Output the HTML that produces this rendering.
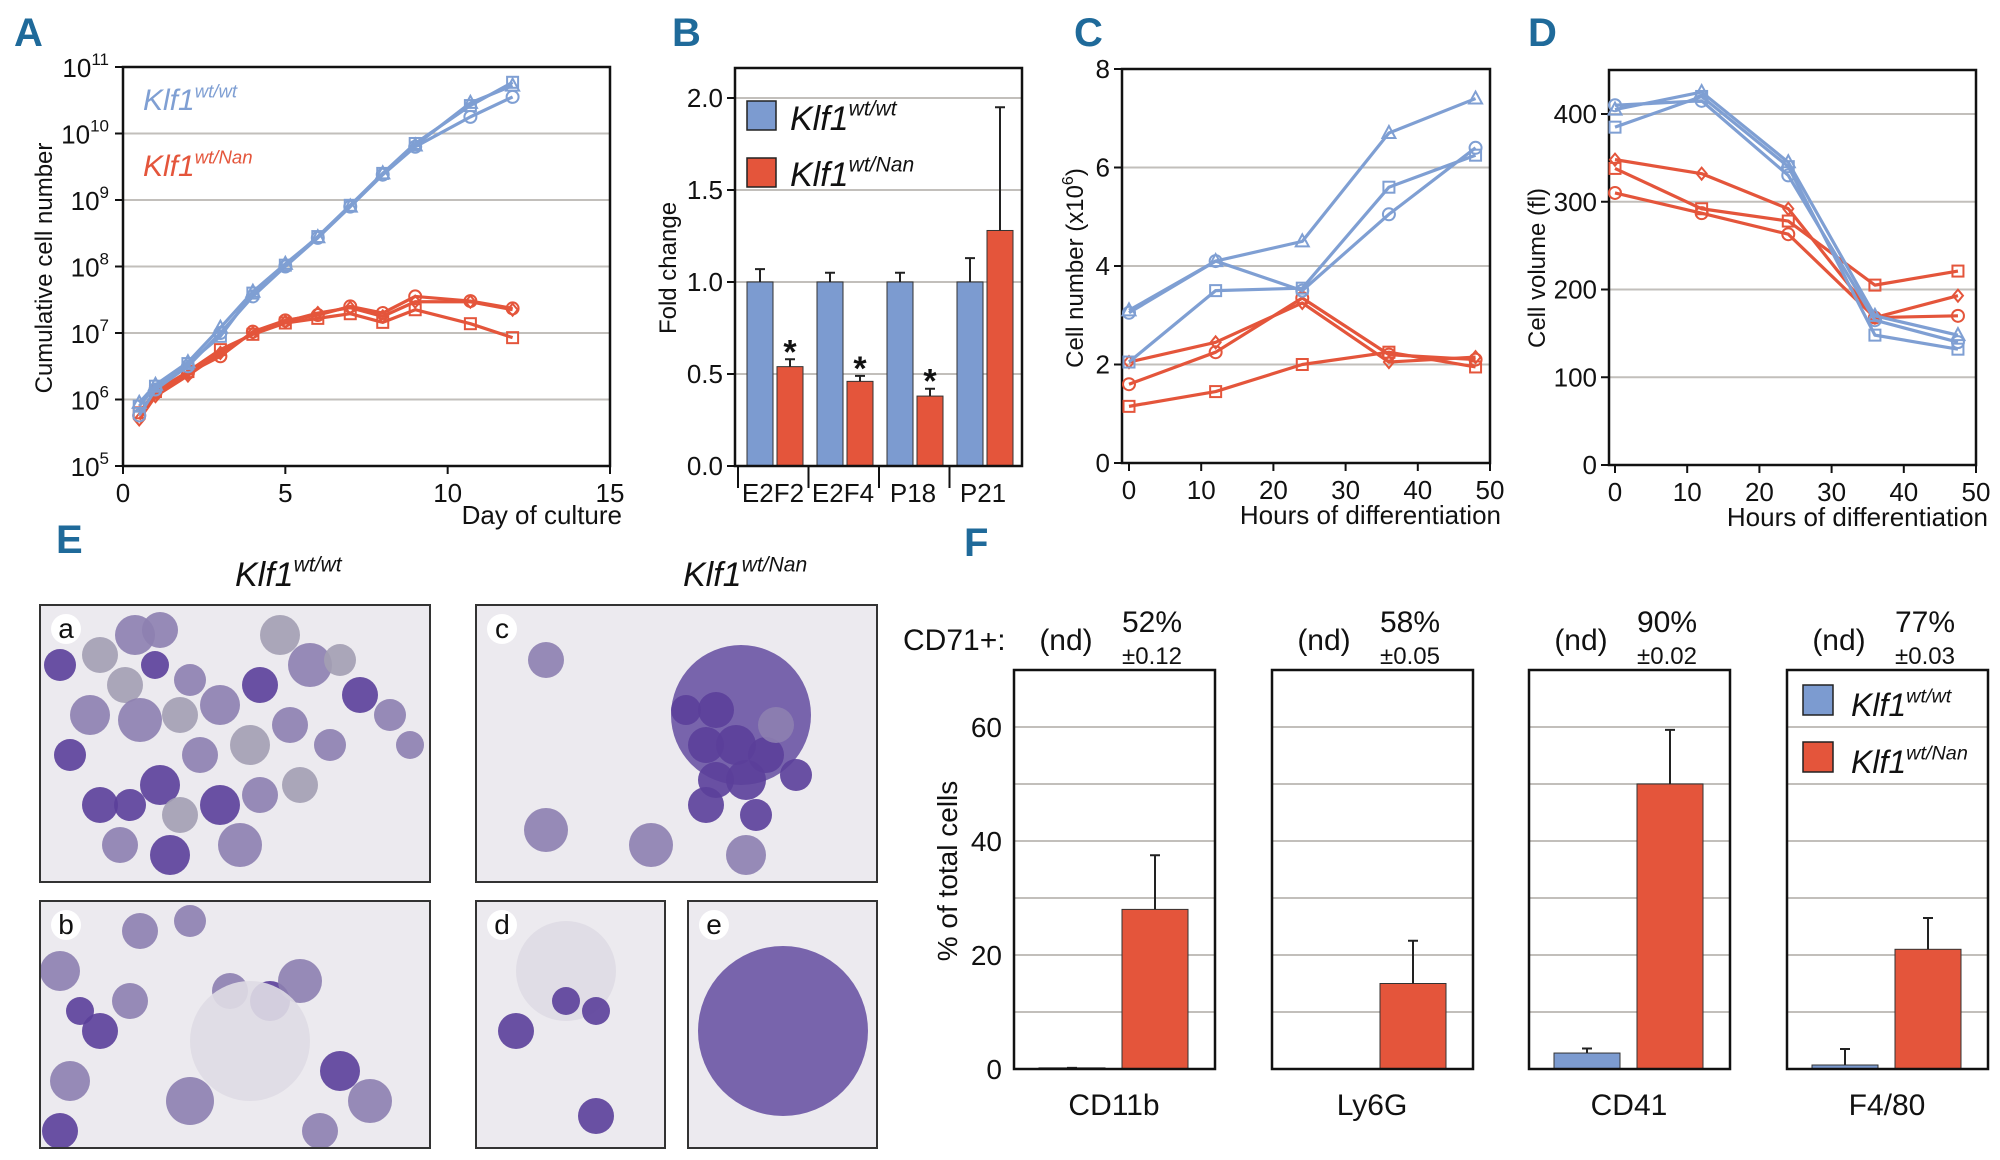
<!DOCTYPE html>
<html><head><meta charset="utf-8"><style>
html,body{margin:0;padding:0;background:#fff;}
svg{display:block;}
text{font-family:"Liberation Sans Narrow","Liberation Sans",sans-serif;}
.w{font-family:"Liberation Sans",sans-serif;}
.pl{font-family:"Liberation Sans Narrow","Liberation Sans",sans-serif;font-weight:bold;font-size:40px;}
</style></head><body>
<svg id="fig" width="2000" height="1160" viewBox="0 0 2000 1160" xmlns="http://www.w3.org/2000/svg">
<text class="pl" x="14" y="46" fill="#1f6a9a">A</text>
<text class="pl" x="672" y="46" fill="#1f6a9a">B</text>
<text class="pl" x="1074" y="46" fill="#1f6a9a">C</text>
<text class="pl" x="1528" y="46" fill="#1f6a9a">D</text>
<text class="pl" x="56" y="553" fill="#1f6a9a">E</text>
<text class="pl" x="964" y="556" fill="#1f6a9a">F</text>
</svg>
<script>
// ---------- data ----------
const aDays=[0.5,1,2,3,4,5,6,7,8,9,10.7,12];
const aBlueCircle=[5.76,6.15,6.5,7.0,7.55,8.0,8.43,8.9,9.38,9.8,10.25,10.55];
const aBlueSquare=[5.9,6.2,6.54,6.95,7.6,8.02,8.45,8.92,9.4,9.85,10.42,10.77];
const aBlueTriangle=[5.95,6.22,6.56,7.08,7.62,8.04,8.44,8.9,9.4,9.82,10.46,10.72];
const aRedCircle=[5.76,6.1,6.4,6.65,7.02,7.19,7.27,7.4,7.3,7.55,7.48,7.37];
const aRedDiamond=[5.7,6.05,6.36,6.7,7.0,7.17,7.3,7.38,7.25,7.47,7.47,7.35];
const aRedSquare=[5.8,6.12,6.42,6.75,6.98,7.15,7.22,7.29,7.16,7.35,7.14,6.93];
const aXTicks=[0,5,10,15];
const aYExp=[5,6,7,8,9,10,11];

const bCats=["E2F2","E2F4","P18","P21"];
const bBlue=[1.0,1.0,1.0,1.0];
const bBlueErr=[1.07,1.05,1.05,1.13];
const bRed=[0.54,0.46,0.38,1.28];
const bRedErr=[0.58,0.49,0.42,1.95];
const bSig=[true,true,true,false];
const bYTicks=[0,0.5,1.0,1.5,2.0];

const cHours=[0,12,24,36,48];
const cBlueTriangle=[3.1,4.1,4.5,6.7,7.4];
const cBlueCircle=[3.05,4.1,3.5,5.05,6.4];
const cBlueSquare=[2.05,3.5,3.55,5.6,6.25];
const cRedDiamond=[2.05,2.45,3.25,2.05,2.15];
const cRedCircle=[1.6,2.25,3.35,2.2,2.1];
const cRedSquare=[1.15,1.45,2.0,2.25,1.95];
const cYTicks=[0,2,4,6,8];
const hXTicks=[0,10,20,30,40,50];

const dHours=[0,12,24,36,47.5];
const dBlueCircle=[410,415,330,165,140];
const dBlueTriangle=[405,425,345,170,148];
const dBlueSquare=[385,420,340,148,132];
const dRedDiamond=[348,332,292,168,193];
const dRedSquare=[338,292,278,205,221];
const dRedCircle=[310,287,263,168,170];
const dYTicks=[0,100,200,300,400];

const fCats=["CD11b","Ly6G","CD41","F4/80"];
const fBlue=[0.2,0,2.8,0.7];
const fBlueErr=[0.2,0,3.6,3.5];
const fRed=[28,15,50,21];
const fRedErr=[37.5,22.5,59.5,26.5];
const fPct=["52%","58%","90%","77%"];
const fSd=["±0.12","±0.05","±0.02","±0.03"];
const fYTicks=[0,20,40,60];

// ---------- helpers ----------
const SVG="http://www.w3.org/2000/svg";
const fig=document.getElementById('fig');
const BLUE="#7f9fd3", RED="#e4553b", BLUEF="#7c9bd0", GRID="#c2bfbb";
function mk(tag,at,parent){const e=document.createElementNS(SVG,tag);for(const k in at)e.setAttribute(k,at[k]);(parent||fig).appendChild(e);return e;}
function txt(s,at,parent){if(!('fill' in at))at.fill='#111';const e=mk('text',at,parent);e.textContent=s;return e;}
function marker(shape,x,y,col,g){
  let e;
  if(shape==='c')e=mk('circle',{cx:x,cy:y,r:6,fill:'none',stroke:col,'stroke-width':2},g);
  else if(shape==='s')e=mk('rect',{x:x-5.5,y:y-5.5,width:11,height:11,fill:'none',stroke:col,'stroke-width':2},g);
  else if(shape==='t')e=mk('polygon',{points:`${x},${y-7} ${x+6.5},${y+5} ${x-6.5},${y+5}`,fill:'none',stroke:col,'stroke-width':2},g);
  else e=mk('polygon',{points:`${x},${y-6} ${x+5},${y} ${x},${y+6} ${x-5},${y}`,fill:'none',stroke:col,'stroke-width':2},g);
  return e;
}
function series(xs,ys,fx,fy,col,shape,name){
  const g=mk('g',{});
  
  
  const pts=xs.map((x,i)=>fx(x)+','+fy(ys[i])).join(' ');
  const l=mk('polyline',{points:pts,fill:'none',stroke:col,'stroke-width':3.2,'stroke-linejoin':'round'},g);
  
  
  xs.forEach((x,i)=>{const m=marker(shape,fx(x),fy(ys[i]),col,g);
    
    });
}
function frame(x0,y0,x1,y1,name){
  const r=mk('rect',{x:x0,y:y0,width:x1-x0,height:y1-y0,fill:'none',stroke:'#111','stroke-width':2.5});
  
  
}
function grid(x0,x1,y,name){
  const l=mk('line',{x1:x0,x2:x1,y1:y,y2:y,stroke:GRID,'stroke-width':2});
  
  
}
function vtitle(s,x,y,size,name,cls){
  const t=txt(s,{x:x,y:y,'font-size':size,'text-anchor':'middle',transform:`rotate(-90 ${x} ${y})`,class:cls||'w'});
  
  
  return t;
}
function klf(x,y,sup,col,size,name){
  const t=txt('',{x:x,y:y,'font-size':size,'font-style':'italic',fill:col});
  
  
  const a=mk('tspan',{},t);a.textContent='Klf1';
  const b=mk('tspan',{dy:-size*0.42,'font-size':size*0.62},t);b.textContent=sup;
  return t;
}

// ---------- panel A ----------
(function(){
  const X0=123,X1=610,Y0=67,Y1=466;
  const fx=d=>X0+d/15*(X1-X0), fy=l=>Y1-(l-5)*(Y1-Y0)/6;
  aYExp.forEach(e=>{ if(e>5&&e<11) grid(X0,X1,fy(e),'a-gridline');
    const tk=mk('line',{x1:X0-8,x2:X0,y1:fy(e),y2:fy(e),stroke:'#111','stroke-width':2});
    
    
    const t=txt('',{x:X0-14,y:fy(e)+10,'font-size':26,'text-anchor':'end',class:'w'});
    
    
    const s1=mk('tspan',{},t);s1.textContent='10';
    const s2=mk('tspan',{dy:-12,'font-size':17},t);s2.textContent=String(e);
  });
  aXTicks.forEach(d=>{
    const tk=mk('line',{x1:fx(d),x2:fx(d),y1:Y1,y2:Y1+8,stroke:'#111','stroke-width':2});
    
    
    const t=txt(String(d),{x:fx(d),y:Y1+36,'font-size':26,'text-anchor':'middle'});
    
    
  });
  frame(X0,Y0,X1,Y1,'a-plot-frame');
  series(aDays,aRedSquare,fx,fy,RED,'s','a-red-square-series');
  series(aDays,aRedDiamond,fx,fy,RED,'d','a-red-diamond-series');
  series(aDays,aRedCircle,fx,fy,RED,'c','a-red-circle-series');
  series(aDays,aBlueCircle,fx,fy,BLUE,'c','a-blue-circle-series');
  series(aDays,aBlueTriangle,fx,fy,BLUE,'t','a-blue-triangle-series');
  series(aDays,aBlueSquare,fx,fy,BLUE,'s','a-blue-square-series');
  klf(143,110,'wt/wt',BLUE,30,'a-legend-wt');
  klf(143,176,'wt/Nan',RED,30,'a-legend-nan');
  const xt=txt('Day of culture',{x:622,y:524,'font-size':26,'text-anchor':'end'});
  
  
  vtitle('Cumulative cell number',52,268,24,'a-y-axis-title');
})();

// ---------- panel B ----------
(function(){
  const X0=735,X1=1022,Y0=68,Y1=466;
  const fy=v=>Y1-v*184;
  bYTicks.forEach(v=>{ if(v>0) grid(X0,X1,fy(v),'b-gridline');
    const tk=mk('line',{x1:X0-8,x2:X0,y1:fy(v),y2:fy(v),stroke:'#111','stroke-width':2});
    
    
    const t=txt(v.toFixed(1),{x:X0-12,y:fy(v)+9,'font-size':26,'text-anchor':'end'});
    
    
  });
  bCats.forEach((c,i)=>{
    const bx=747+i*70, rx=777+i*70, w=26;
    const b=mk('rect',{x:bx,y:fy(bBlue[i]),width:w,height:fy(0)-fy(bBlue[i]),fill:BLUEF,stroke:'#333','stroke-width':1});
    
    
    const r=mk('rect',{x:rx,y:fy(bRed[i]),width:w,height:fy(0)-fy(bRed[i]),fill:RED,stroke:'#333','stroke-width':1});
    
    
    [[bx+w/2,bBlue[i],bBlueErr[i]],[rx+w/2,bRed[i],bRedErr[i]]].forEach(([cx,v,e])=>{
      const l=mk('path',{d:`M${cx},${fy(v)} V${fy(e)} M${cx-5},${fy(e)} H${cx+5}`,stroke:'#222','stroke-width':2,fill:'none'});
      
      
    });
    if(bSig[i]){const s=txt('*',{x:rx+w/2,y:fy(bRedErr[i])+4,'font-size':34,'text-anchor':'middle','font-weight':'bold',class:'w'});
      
      }
    const t=txt(c,{x:773+i*70,y:Y1+36,'font-size':26,'text-anchor':'middle'});
    
    
    const sp=mk('line',{x1:738+i*70.5,x2:738+i*70.5,y1:Y1,y2:Y1+22,stroke:'#111','stroke-width':2});
    
    
  });
  frame(X0,Y0,X1,Y1,'b-plot-frame');
  const s1=mk('rect',{x:747,y:101,width:29,height:29,fill:BLUEF,stroke:'#222','stroke-width':1.5});
  
  
  const s2=mk('rect',{x:747,y:158,width:29,height:29,fill:RED,stroke:'#222','stroke-width':1.5});
  
  
  klf(790,130,'wt/wt','#111',34,'b-legend-wt');
  klf(790,186,'wt/Nan','#111',34,'b-legend-nan');
  vtitle('Fold change',676,268,24,'b-y-axis-title');
})();

// ---------- panels C & D ----------
function hoursAxis(X0,X1,Y1,xs0,prefix){
  hXTicks.forEach(h=>{const x=xs0(h);
    const tk=mk('line',{x1:x,x2:x,y1:Y1,y2:Y1+8,stroke:'#111','stroke-width':2});
    
    
    const t=txt(String(h),{x:x,y:Y1+36,'font-size':26,'text-anchor':'middle'});
    
    });
}
(function(){
  const X0=1122,X1=1490,Y0=69,Y1=463;
  const fx=h=>1129+h/50*361, fy=v=>Y1-v*(Y1-Y0)/8;
  cYTicks.forEach(v=>{ if(v>0&&v<8) grid(X0,X1,fy(v),'c-gridline');
    const tk=mk('line',{x1:X0-8,x2:X0,y1:fy(v),y2:fy(v),stroke:'#111','stroke-width':2});
    
    
    const t=txt(String(v),{x:X0-12,y:fy(v)+9,'font-size':26,'text-anchor':'end'});
    
    });
  hoursAxis(X0,X1,Y1,fx,'c');
  frame(X0,Y0,X1,Y1,'c-plot-frame');
  series(cHours,cRedSquare,fx,fy,RED,'s','c-red-square-series');
  series(cHours,cRedCircle,fx,fy,RED,'c','c-red-circle-series');
  series(cHours,cRedDiamond,fx,fy,RED,'d','c-red-diamond-series');
  series(cHours,cBlueSquare,fx,fy,BLUE,'s','c-blue-square-series');
  series(cHours,cBlueCircle,fx,fy,BLUE,'c','c-blue-circle-series');
  series(cHours,cBlueTriangle,fx,fy,BLUE,'t','c-blue-triangle-series');
  const xt=txt('Hours of differentiation',{x:1501,y:524,'font-size':26,'text-anchor':'end'});
  
  
  const t=vtitle('',1083,268,24,'c-y-axis-title');
  const a=mk('tspan',{},t);a.textContent='Cell number (x10';
  const b=mk('tspan',{dy:-10,'font-size':16},t);b.textContent='6';
  const c=mk('tspan',{dy:10},t);c.textContent=')';
})();
(function(){
  const X0=1609,X1=1976,Y0=70,Y1=465;
  const fx=h=>1615+h/50*361, fy=v=>Y1-v*0.8775;
  dYTicks.forEach(v=>{ if(v>0) grid(X0,X1,fy(v),'d-gridline');
    const tk=mk('line',{x1:X0-8,x2:X0,y1:fy(v),y2:fy(v),stroke:'#111','stroke-width':2});
    
    
    const t=txt(String(v),{x:X0-12,y:fy(v)+9,'font-size':26,'text-anchor':'end'});
    
    });
  hoursAxis(X0,X1,Y1,fx,'d');
  frame(X0,Y0,X1,Y1,'d-plot-frame');
  series(dHours,dRedSquare,fx,fy,RED,'s','d-red-square-series');
  series(dHours,dRedCircle,fx,fy,RED,'c','d-red-circle-series');
  series(dHours,dRedDiamond,fx,fy,RED,'d','d-red-diamond-series');
  series(dHours,dBlueSquare,fx,fy,BLUE,'s','d-blue-square-series');
  series(dHours,dBlueCircle,fx,fy,BLUE,'c','d-blue-circle-series');
  series(dHours,dBlueTriangle,fx,fy,BLUE,'t','d-blue-triangle-series');
  const xt=txt('Hours of differentiation',{x:1988,y:526,'font-size':26,'text-anchor':'end'});
  
  
  vtitle('Cell volume (fl)',1545,268,24,'d-y-axis-title');
})();

// ---------- panel E (micrographs) ----------
(function(){
  klf(235,586,'wt/wt','#111',34,'e-title-wt');
  klf(683,586,'wt/Nan','#111',34,'e-title-nan');
  const panels=[
    {n:'a',x:40,y:605,w:390,h:277,cells:[[60,50,18,0],[95,30,20,1],[120,25,18,1],[115,60,14,2],[150,75,16,1],[85,80,18,0],[50,110,20,1],[30,150,16,2],[100,115,22,1],[140,110,18,0],[180,100,20,1],[220,80,18,2],[270,60,22,1],[300,55,16,0],[320,90,18,2],[350,110,16,1],[250,120,18,1],[210,140,20,0],[160,150,18,1],[120,180,20,2],[90,200,16,2],[140,210,18,0],[180,200,20,2],[220,190,18,1],[60,200,18,2],[80,240,18,1],[130,250,20,2],[200,240,22,1],[260,180,18,0],[290,140,16,1],[20,60,16,2],[370,140,14,1],[240,30,20,0]]},
    {n:'b',x:40,y:901,w:390,h:247,cells:[[20,70,20,1],[40,110,14,2],[60,130,18,2],[90,100,18,1],[30,180,20,1],[100,30,18,1],[150,20,16,1],[190,90,18,1],[230,100,20,2],[260,80,22,1],[210,140,60,3],[150,200,24,1],[300,170,20,2],[330,200,22,1],[280,230,18,1],[20,230,18,2]]},
    {n:'c',x:476,y:605,w:401,h:277,cells:[[70,55,18,1],[265,110,70,4],[210,105,15,2],[240,105,18,2],[260,140,20,2],[230,140,18,2],[290,150,18,2],[270,175,20,2],[240,175,18,2],[300,120,18,1],[320,170,16,2],[230,200,18,2],[280,210,16,2],[70,225,22,1],[175,240,22,1],[270,250,20,1]]},
    {n:'d',x:476,y:901,w:189,h:247,cells:[[90,70,50,3],[40,130,18,2],[90,100,14,2],[120,110,14,2],[120,215,18,2]]},
    {n:'e',x:688,y:901,w:189,h:247,cells:[[95,130,85,4]]}
  ];
  const fills=['#a39eb2','#8d7fb0','#5b3f9a','#dfdbe4','#6c55a4'];
  panels.forEach(p=>{
    const g=mk('g',{});
    
    
    const cp=mk('clipPath',{id:'cp'+p.n},g);
    mk('rect',{x:p.x,y:p.y,width:p.w,height:p.h},cp);
    const bg=mk('rect',{x:p.x,y:p.y,width:p.w,height:p.h,fill:'#eceaef'},g);
    
    
    const cg=mk('g',{'clip-path':`url(#cp${p.n})`},g);
    p.cells.forEach(c=>{
      const e=mk('circle',{cx:p.x+c[0],cy:p.y+c[1],r:c[2],fill:fills[c[3]],opacity:0.9},cg);
      
      
    });
    const fr=mk('rect',{x:p.x,y:p.y,width:p.w,height:p.h,fill:'none',stroke:'#333','stroke-width':2},g);
    
    
    const lc=mk('circle',{cx:p.x+26,cy:p.y+24,r:15,fill:'#fff'},g);
    
    
    const t=txt(p.n,{x:p.x+26,y:p.y+33,'font-size':28,'text-anchor':'middle',class:'w'},g);
    
    
  });
})();

// ---------- panel F ----------
(function(){
  const lefts=[1014,1272,1529,1787], W=201, Y0=670, Y1=1069;
  const fy=v=>Y1-v*(Y1-Y0)/70;
  const lab=txt('CD71+:',{x:903,y:650,'font-size':30});
  
  
  fCats.forEach((c,i)=>{
    const L=lefts[i];
    for(let v=10;v<70;v+=10) grid(L,L+W,fy(v),'f-gridline');
    const bb=mk('rect',{x:L+25,y:fy(fBlue[i]),width:66,height:Math.max(fy(0)-fy(fBlue[i]),0.5),fill:BLUEF,stroke:'#333','stroke-width':1});
    
    
    const rb=mk('rect',{x:L+108,y:fy(fRed[i]),width:66,height:fy(0)-fy(fRed[i]),fill:RED,stroke:'#333','stroke-width':1});
    
    
    [[L+58,fBlue[i],fBlueErr[i]],[L+141,fRed[i],fRedErr[i]]].forEach(([cx,v,e])=>{
      if(e<=0) return;
      const l=mk('path',{d:`M${cx},${fy(v)} V${fy(e)} M${cx-5},${fy(e)} H${cx+5}`,stroke:'#222','stroke-width':2,fill:'none'});
      
      
    });
    frame(L,Y0,L+W,Y1,'f-plot-frame-'+c);
    const t=txt(c,{x:L+100,y:1115,'font-size':30,'text-anchor':'middle'});
    
    
    const nd=txt('(nd)',{x:L+52,y:650,'font-size':30,'text-anchor':'middle'});
    
    
    const pc=txt(fPct[i],{x:L+138,y:632,'font-size':30,'text-anchor':'middle'});
    
    
    const sd=txt(fSd[i],{x:L+138,y:664,'font-size':24,'text-anchor':'middle'});
    
    
  });
  fYTicks.forEach(v=>{
    const t=txt(String(v),{x:1002,y:fy(v)+10,'font-size':28,'text-anchor':'end'});
    
    
  });
  vtitle('% of total cells',957,871,28,'f-y-axis-title');
  const s1=mk('rect',{x:1803,y:685,width:30,height:30,fill:BLUEF,stroke:'#222','stroke-width':1.5});
  
  
  const s2=mk('rect',{x:1803,y:742,width:30,height:30,fill:RED,stroke:'#222','stroke-width':1.5});
  
  
  klf(1851,716,'wt/wt','#111',32,'f-legend-wt');
  klf(1851,773,'wt/Nan','#111',32,'f-legend-nan');
})();
</script>
</body></html>
